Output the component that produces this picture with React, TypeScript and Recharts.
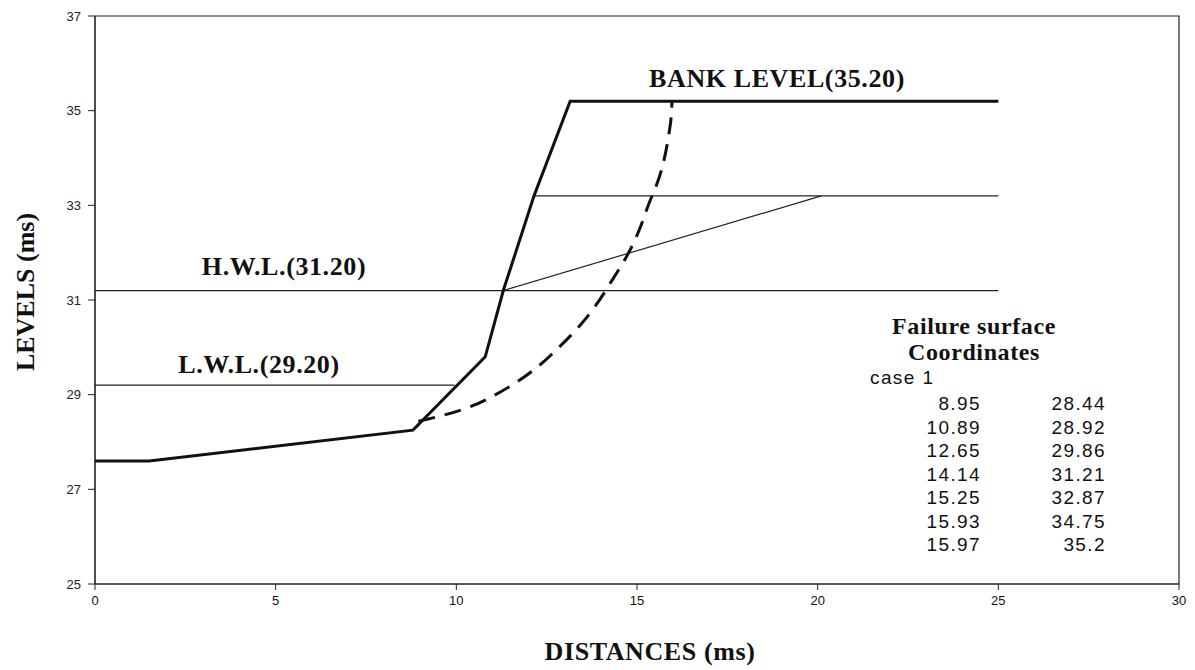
import { LineChart, Line, XAxis, YAxis, ReferenceArea } from "recharts"

const xTicks = [0, 5, 10, 15, 20, 25, 30]
const yTicks = [25, 27, 29, 31, 33, 35, 37]

// ground / bank profile
const groundX = [0, 1.5, 8.8, 10.8, 11.3, 12.15, 13.15, 25]
const groundY = [27.6, 27.6, 28.25, 29.8, 31.2, 33.2, 35.2, 35.2]

// failure surface, case 1
const failureX = [8.95, 10.89, 12.65, 14.14, 15.25, 15.93, 15.97]
const failureY = [28.44, 28.92, 29.86, 31.21, 32.87, 34.75, 35.2]

const hwlX = [0, 25]
const hwlY = [31.2, 31.2]
const lwlX = [0, 9.95]
const lwlY = [29.2, 29.2]
const upperX = [12.15, 25]
const upperY = [33.2, 33.2]
const slopeX = [11.3, 20.1]
const slopeY = [31.2, 33.2]

const zip = (xs: number[], ys: number[]) => xs.map((x, i) => ({ x, y: ys[i] }))

const serif = "'Liberation Serif', 'DejaVu Serif', serif"
const sans = "'Liberation Sans', Arial, sans-serif"

function Note({ x, y, text, size = 26, bold = true }: { x: number; y: number; text: string; size?: number; bold?: boolean }) {
  return (
    <div
      style={{
        position: "absolute",
        left: x,
        top: y,
        transform: "translate(-50%, -50%)",
        whiteSpace: "nowrap",
        fontFamily: serif,
        fontWeight: bold ? "bold" : "normal",
        fontSize: size,
        lineHeight: 1,
        letterSpacing: 0.6,
        color: "#111",
      }}
    >
      {text}
    </div>
  )
}

export default function App() {
  const thin = { stroke: "#222", strokeWidth: 1.2, dot: false, isAnimationActive: false, type: "linear" as const }
  const cell = { position: "absolute" as const, fontFamily: sans, fontSize: 19, letterSpacing: 1.4, color: "#111", lineHeight: "20px" }

  return (
    <div style={{ position: "absolute", left: 0, top: 0, width: 1195, height: 670, background: "#fff" }}>
      <LineChart width={1195} height={670} margin={{ top: 16, right: 16, bottom: 56, left: 0 }}>
        <XAxis
          dataKey="x"
          type="number"
          domain={[0, 30]}
          ticks={xTicks}
          height={30}
          tickSize={6}
          tickMargin={6}
          allowDuplicatedCategory={false}
          stroke="#222"
          tick={{ fill: "#111", fontSize: 13, fontFamily: sans }}
        />
        <YAxis
          type="number"
          domain={[25, 37]}
          ticks={yTicks}
          width={95}
          tickSize={7}
          tickMargin={7}
          stroke="#222"
          tick={{ fill: "#222", fontSize: 13, fontFamily: sans }}
        />
        <ReferenceArea x1={0} x2={30} y1={25} y2={37} fill="none" stroke="#222" strokeWidth={1.2} />
        <Line data={zip(hwlX, hwlY)} dataKey="y" {...thin} />
        <Line data={zip(lwlX, lwlY)} dataKey="y" {...thin} />
        <Line data={zip(upperX, upperY)} dataKey="y" {...thin} />
        <Line data={zip(slopeX, slopeY)} dataKey="y" {...thin} />
        <Line
          data={zip(groundX, groundY)}
          dataKey="y"
          type="linear"
          stroke="#111"
          strokeWidth={3}
          dot={false}
          isAnimationActive={false}
        />
        <Line
          data={zip(failureX, failureY)}
          dataKey="y"
          type="monotone"
          stroke="#111"
          strokeWidth={3}
          strokeDasharray="17 10"
          dot={false}
          isAnimationActive={false}
        />
      </LineChart>

      <Note x={777} y={79} text="BANK LEVEL(35.20)" />
      <Note x={284} y={267} text="H.W.L.(31.20)" />
      <Note x={259} y={365} text="L.W.L.(29.20)" />
      <Note x={974} y={326} text="Failure surface" size={24} />
      <Note x={974} y={352} text="Coordinates" size={24} />

      <div style={{ ...cell, left: 870, top: 368 }}>case 1</div>
      {failureX.map((v, i) => (
        <div key={"fx" + i} style={{ ...cell, right: 1195 - 981, top: 394 + i * 23.5, textAlign: "right" }}>
          {String(v)}
        </div>
      ))}
      {failureY.map((v, i) => (
        <div key={"fy" + i} style={{ ...cell, right: 1195 - 1106, top: 394 + i * 23.5, textAlign: "right" }}>
          {String(v)}
        </div>
      ))}

      <div
        style={{
          position: "absolute",
          left: 26,
          top: 292,
          transform: "translate(-50%, -50%) rotate(-90deg)",
          whiteSpace: "nowrap",
          fontFamily: serif,
          fontWeight: "bold",
          fontSize: 26,
          lineHeight: 1,
          color: "#111",
        }}
      >
        LEVELS (ms)
      </div>
      <Note x={650} y={652} text="DISTANCES (ms)" size={26} />
    </div>
  )
}
